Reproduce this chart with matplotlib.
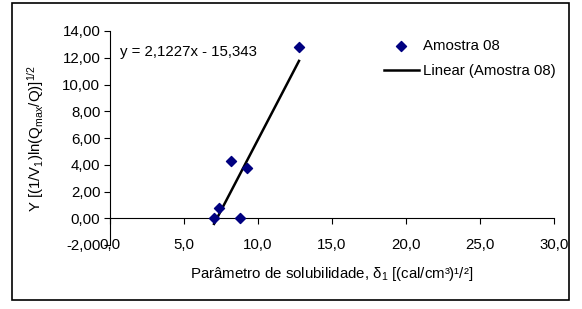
import numpy as np
import matplotlib.pyplot as plt
from matplotlib.patches import Rectangle

plt.rcParams['font.family'] = ['Liberation Sans', 'DejaVu Sans']
plt.rcParams['mathtext.fontset'] = 'custom'
plt.rcParams['mathtext.rm'] = 'Liberation Sans'
plt.rcParams['mathtext.it'] = 'Liberation Sans'
plt.rcParams['mathtext.default'] = 'regular'

# data
x_vals = [7.03, 7.39, 8.17, 9.23, 8.78, 12.77]
y_vals = [0.0, 0.73, 4.27, 3.75, 0.0, 12.81]
slope, intercept = 2.1227, -15.343
x_ticks = [0, 5, 10, 15, 20, 25, 30]
y_ticks = [-2, 0, 2, 4, 6, 8, 10, 12, 14]

FS = 10.8

fig = plt.figure(figsize=(5.82, 3.09), dpi=100)
ax = fig.add_axes([110/582, 1 - 245/309, 444/582, 214/309])

ax.scatter(x_vals, y_vals, marker='D', s=26, color='#000080', zorder=3, label='Amostra 08')
xf = np.array([min(x_vals), max(x_vals)])
ax.plot(xf, slope*xf + intercept, color='black', lw=1.8, label='Linear (Amostra 08)')

ax.set_xlim(0, 30)
ax.set_ylim(-2, 14)
ax.set_xticks(x_ticks)
ax.set_xticklabels([f"{v:.1f}".replace('.', ',') for v in x_ticks])
ax.set_yticks(y_ticks)
ax.set_yticklabels([f"{v:.2f}".replace('.', ',') for v in y_ticks])

ax.spines['top'].set_visible(False)
ax.spines['right'].set_visible(False)
ax.spines['bottom'].set_position(('data', 0))
ax.tick_params(axis='x', direction='out', length=4, pad=10, labelsize=FS)
ax.tick_params(axis='y', direction='out', length=4, pad=3, labelsize=FS)

ax.set_xlabel('Parâmetro de solubilidade, δ$_1$ [(cal/cm³)¹/²]', fontsize=FS)
ax.xaxis.set_label_coords(0.5, -0.095)
ax.set_ylabel('Y [(1/V$_1$)ln(Q$_{max}$/Q)]$^{1/2}$', fontsize=FS)
ax.yaxis.set_label_coords(-0.145, 0.5)

ax.text(120/582, 1 - 52/309, 'y = 2,1227x - 15,343', transform=fig.transFigure,
        fontsize=FS, va='center', ha='left')

fig.legend(loc='upper left', bbox_to_anchor=(378/582, 1 - 33/309), frameon=False,
           fontsize=FS, handlelength=2.3, handletextpad=0.3, labelspacing=0.75,
           borderaxespad=0)

fig.patches.append(Rectangle((12/582, 1 - 300/309), 557/582, 297/309,
                             transform=fig.transFigure, fill=False,
                             edgecolor='black', lw=1.2))

fig.savefig('out.png', dpi=100)
